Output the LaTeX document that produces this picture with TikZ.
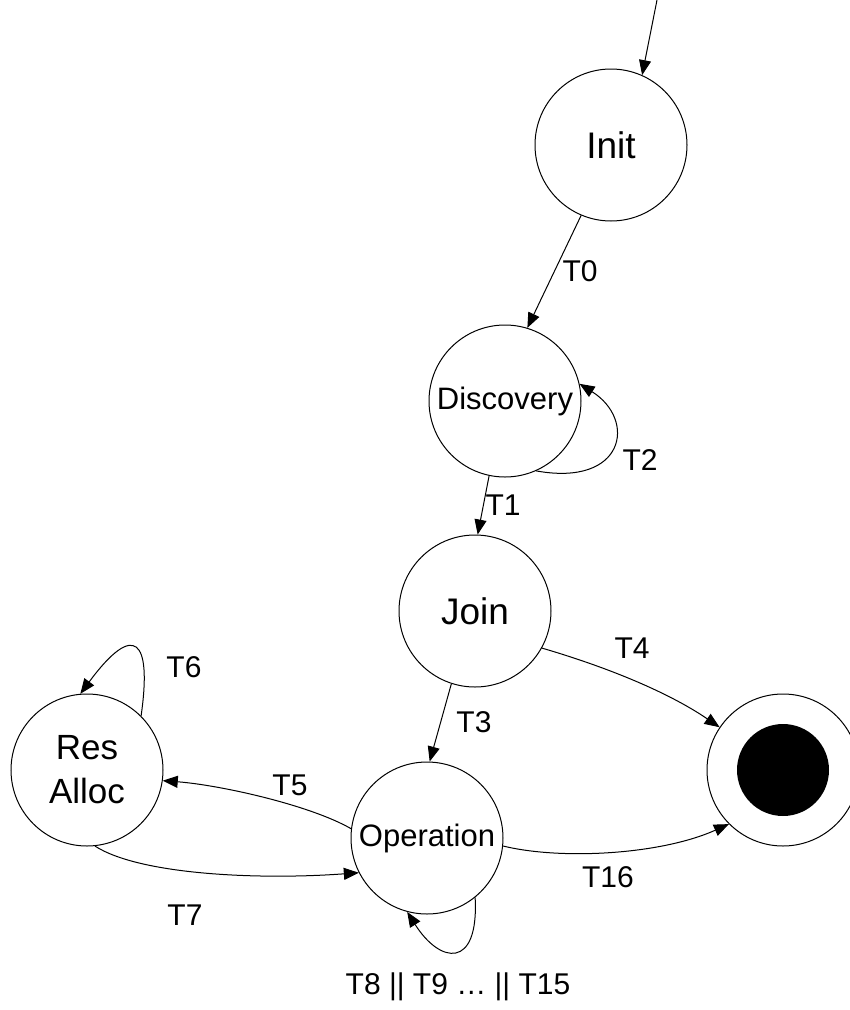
\documentclass[tikz,border=0pt]{standalone}
\usepackage{fontspec}
\setmainfont{Liberation Sans}
\usetikzlibrary{arrows.meta}
\begin{document}
\begin{tikzpicture}[x=1pt,y=-1pt,
  state/.style={circle,draw,line width=1pt,minimum size=152pt,inner sep=0pt,align=center},
  tr/.style={-{Triangle[length=15pt,width=12pt]},line width=1pt},
  lbl/.style={font=\fontsize{30}{36}\selectfont,inner sep=0pt},
]
\useasboundingbox (0,0) rectangle (850,1010);

% states
\node[state,font=\fontsize{37}{44}\selectfont] (init) at (611,145) {Init};
\node[state,font=\fontsize{31}{38}\selectfont] (disc) at (505,401) {Discovery};
\node[state,font=\fontsize{37}{44}\selectfont] (join) at (475,611) {Join};
\node[state,font=\fontsize{35}{44}\selectfont] (res) at (87,770) {Res\\Alloc};
\node[state,font=\fontsize{31}{38}\selectfont] (op) at (427,838) {Operation};
\node[state] (fin) at (783,770) {};
\node[circle,fill,minimum size=92pt,inner sep=0pt] (finin) at (fin) {};

% entry arrow
\coordinate (start) at (657,0);
\draw[tr] (start) -- (init.66);

% transitions
\draw[tr] (init.247) -- (disc.73);
\draw[tr] (disc.294) .. controls (625,487) and (637,420) .. (disc.13);
\draw[tr] (disc.258) -- (join.88);
\draw[tr] (join.252) -- (op.88);
\draw[tr] (join.331) .. controls (600,665) and (665,690) .. (fin.146);
\draw[tr] (op.173) .. controls (310,805) and (220,785) .. (res.352);
\draw[tr] (res.276) .. controls (140,875) and (260,880) .. (op.207);
\draw[tr] (res.45) .. controls (152,640) and (135,620) .. (res.95);
\draw[tr] (op.309) .. controls (479,970) and (440,964) .. (op.255);
\draw[tr] (op.354) .. controls (560,860) and (660,855) .. (fin.225);

% transition labels
\node[lbl] (lT0) at (580,271) {T0};
\node[lbl] (lT1) at (503,505) {T1};
\node[lbl] (lT2) at (640,460) {T2};
\node[lbl] (lT3) at (474,722) {T3};
\node[lbl] (lT4) at (632,648) {T4};
\node[lbl] (lT5) at (290,785) {T5};
\node[lbl] (lT6) at (184,667) {T6};
\node[lbl] (lT7) at (185,915) {T7};
\node[lbl] (lT16) at (608,877) {T16};
\node[lbl] (lTop) at (458,987) {T8 || T9 … || T15};
\end{tikzpicture}
\end{document}
